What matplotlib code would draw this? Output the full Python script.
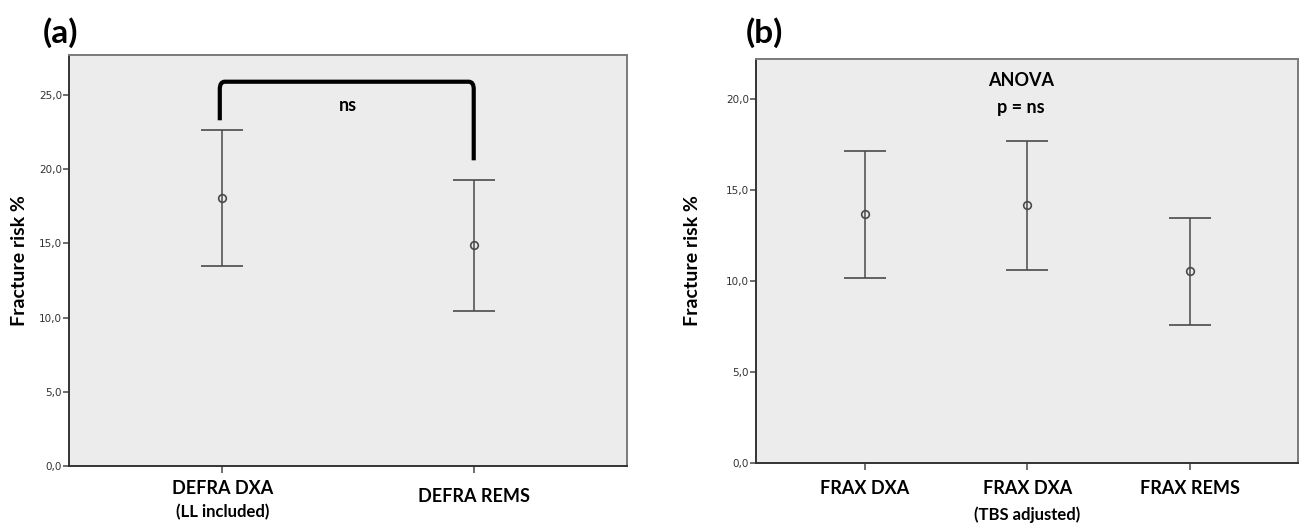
import matplotlib.pyplot as plt
from matplotlib.path import Path
from matplotlib.patches import PathPatch

# panel (a) data: mean and 95% CI
cats_a = ["DEFRA DXA", "DEFRA REMS"]
sub_a = ["(LL included)", ""]
mean_a = [18.06, 14.86]
low_a = [13.45, 10.43]
high_a = [22.63, 19.26]

# panel (b)
cats_b = ["FRAX DXA", "FRAX DXA", "FRAX REMS"]
sub_b = ["", "(TBS adjusted)", ""]
mean_b = [13.65, 14.16, 10.52]
low_b = [10.16, 10.60, 7.59]
high_b = [17.13, 17.69, 13.46]

# bracket heights for the "ns" comparison in (a)
br_left, br_top, br_right = 23.3, 25.9, 20.6

plt.rcParams['font.family'] = ['Lato', 'DejaVu Sans']
fig = plt.figure(figsize=(13.01, 5.24), dpi=100)
ax_a = fig.add_axes([0.053, 0.111, 0.429, 0.784])
ax_b = fig.add_axes([0.581, 0.117, 0.417, 0.771])

def draw_panel(ax, cats, subs, mean, low, high, ymax, xpad, ymain, ysub, ysingle):
    x = list(range(len(cats)))
    yerr = [[m - l for m, l in zip(mean, low)], [h - m for m, h in zip(mean, high)]]
    ax.errorbar(x, mean, yerr=yerr, fmt='o', color='#4a4a4a', mfc='none', mec='#4a4a4a',
                ms=5.5, mew=1.2, elinewidth=1.1, capsize=15, capthick=1.1)
    ax.set_facecolor('#ececec')
    ax.set_xlim(-xpad, len(cats) - 1 + xpad)
    ax.set_ylim(0, ymax)
    ax.set_yticks(range(0, int(ymax) + 1, 5))
    ax.set_yticklabels([f"{v},0" for v in range(0, int(ymax) + 1, 5)], fontsize=7.5,
                       color='#333333', family='Liberation Sans Narrow')
    ax.set_xticks(x)
    ax.set_xticklabels([])
    ax.tick_params(axis='y', length=4, width=1.2, color='#555555', pad=1)
    ax.tick_params(axis='x', length=5, width=1.2, color='#555555')
    for s in ax.spines.values():
        s.set_color('#7a7a7a')
        s.set_linewidth(1.4)
    ax.spines['left'].set_color('#333333')
    ax.spines['bottom'].set_color('#333333')
    ax.set_ylabel("Fracture risk %", fontsize=14, fontweight='bold')
    tr = ax.get_xaxis_transform()
    for xi, c, s in zip(x, cats, subs):
        if s:
            ax.text(xi, ymain, c, transform=tr, ha='center', va='center',
                    fontsize=13, fontweight='bold')
            ax.text(xi, ysub, s, transform=tr, ha='center', va='center',
                    fontsize=12, fontweight='bold')
        else:
            ax.text(xi, ysingle, c, transform=tr, ha='center', va='center',
                    fontsize=13, fontweight='bold')

draw_panel(ax_a, cats_a, sub_a, mean_a, low_a, high_a, 27.7, 0.61, -0.056, -0.112, -0.075)
draw_panel(ax_b, cats_b, sub_b, mean_b, low_b, high_b, 22.2, 0.67, -0.065, -0.13, -0.065)
ax_a.yaxis.labelpad = 8
ax_b.yaxis.labelpad = 18

# "ns" bracket in panel (a)
x0, x1 = -0.01, 1.0
rx, ry = 0.02, 0.5
verts = [(x0, br_left), (x0, br_top - ry), (x0, br_top), (x0 + rx, br_top),
         (x1 - rx, br_top), (x1, br_top), (x1, br_top - ry), (x1, br_right)]
codes = [Path.MOVETO, Path.LINETO, Path.CURVE3, Path.CURVE3,
         Path.LINETO, Path.CURVE3, Path.CURVE3, Path.LINETO]
ax_a.add_patch(PathPatch(Path(verts, codes), fill=False, lw=3, color='black', capstyle='butt'))
ax_a.text(0.5, 24.3, "ns", ha='center', va='center', fontsize=13, fontweight='bold')

ax_b.text(0.96, 21.0, "ANOVA", ha='center', va='center', fontsize=13, fontweight='bold')
ax_b.text(0.96, 19.5, "p = ns", ha='center', va='center', fontsize=13, fontweight='bold')

fig.text(0.033, 0.938, "(a)", fontsize=24, fontweight='bold', va='center')
fig.text(0.573, 0.938, "(b)", fontsize=24, fontweight='bold', va='center')

fig.savefig("out.png", dpi=100)
